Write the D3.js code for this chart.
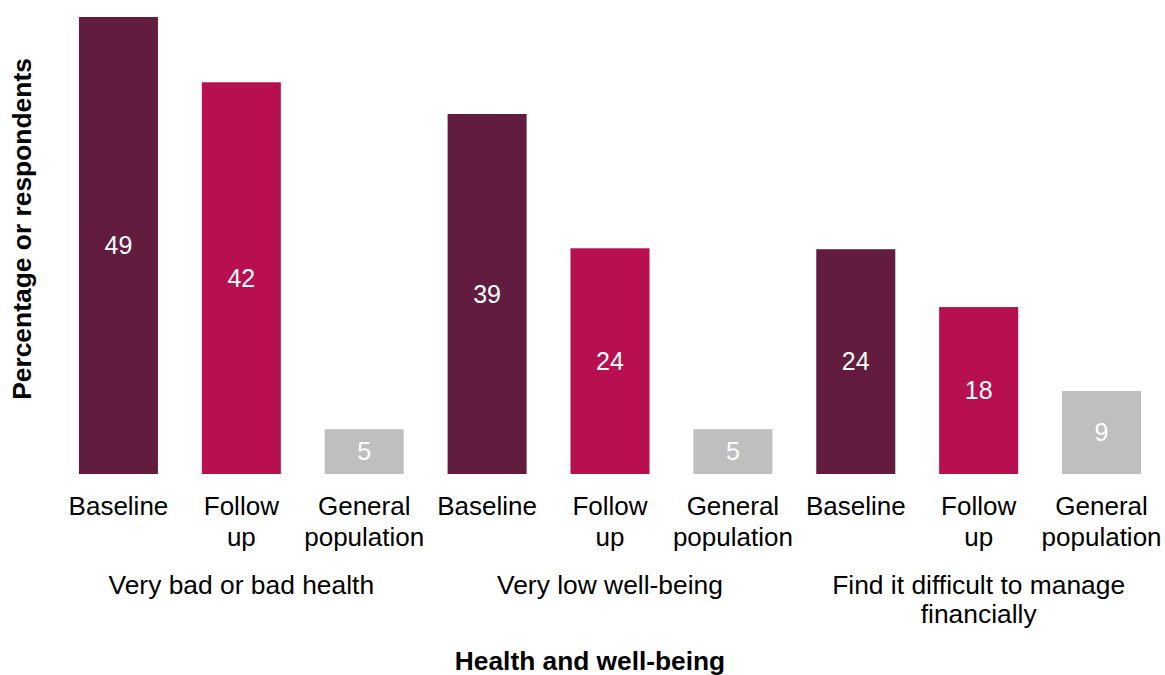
<!DOCTYPE html>
<html>
<head>
<meta charset="utf-8">
<script src="https://cdn.jsdelivr.net/npm/d3@7"></script>
<style>
  html, body { margin: 0; padding: 0; background: #fff; }
  svg { display: block; font-family: "Liberation Sans", Arial, sans-serif; }
</style>
</head>
<body>
<svg id="chart" width="1165" height="675"></svg>
<script>
// ---- data ----
const groups = ["Very bad or bad health", "Very low well-being", "Find it difficult to manage financially"];
const seriesNames = ["Baseline", "Follow up", "General population"];
const tickLabels = [["Baseline"], ["Follow", "up"], ["General", "population"]];
const baselineValues = [49.0, 38.6, 24.1];
const followUpValues = [42.0, 24.2, 17.9];
const generalPopValues = [4.8, 4.8, 8.9];
const seriesColors = ["#621c40", "#b70f50", "#bfbfbf"];
const yTitle = "Percentage or respondents";
const xTitle = "Health and well-being";

// ---- build rows ----
const seriesValues = [baselineValues, followUpValues, generalPopValues];
const rows = [];
groups.forEach((g, gi) => {
  seriesNames.forEach((s, si) => {
    rows.push({ id: gi * 3 + si, group: gi, series: si, value: seriesValues[si][gi] });
  });
});

const svg = d3.select("#chart");
const plotLeft = 57, plotRight = 1163, plotTop = 17, plotBottom = 474;

const x = d3.scaleBand()
  .domain(rows.map(d => d.id))
  .range([plotLeft, plotRight])
  .paddingInner(0.357)
  .paddingOuter(0.357 / 2);

const y = d3.scaleLinear()
  .domain([0, 49])
  .range([plotBottom, plotTop]);

// bars
svg.append("g").selectAll("rect")
  .data(rows)
  .join("rect")
  .attr("x", d => x(d.id))
  .attr("y", d => y(d.value))
  .attr("width", x.bandwidth())
  .attr("height", d => y(0) - y(d.value))
  .attr("fill", d => seriesColors[d.series]);

// value labels
svg.append("g").selectAll("text")
  .data(rows)
  .join("text")
  .attr("x", d => x(d.id) + x.bandwidth() / 2)
  .attr("y", d => (y(d.value) + y(0)) / 2)
  .attr("dy", "0.35em")
  .attr("text-anchor", "middle")
  .attr("fill", "#fff")
  .attr("font-size", 25)
  .text(d => d3.format(".0f")(d.value));

// x axis (category labels)
const xAxis = d3.axisBottom(x).tickSize(0).tickFormat("");
const axisG = svg.append("g")
  .attr("transform", `translate(0,${plotBottom})`)
  .call(xAxis);
axisG.select(".domain").remove();
axisG.selectAll(".tick").each(function(id) {
  const r = rows.find(d => d.id === id);
  const lines = tickLabels[r.series];
  const t = d3.select(this).select("text")
    .attr("y", 0).attr("dy", null)
    .attr("fill", "#000")
    .attr("font-size", 26)
    .attr("font-family", "Liberation Sans, Arial, sans-serif");
  t.selectAll("tspan").data(lines).join("tspan")
    .attr("x", 0)
    .attr("y", (d, i) => 41 + i * 31)
    .text(d => d);
});

// group labels (wrapped)
function wrapText(textSel, width, lineHeight) {
  textSel.each(function() {
    const text = d3.select(this);
    const words = text.text().split(/\s+/);
    const x0 = text.attr("x"), y0 = +text.attr("y");
    text.text(null);
    let line = [];
    let lineNo = 0;
    let tspan = text.append("tspan").attr("x", x0).attr("y", y0);
    words.forEach(w => {
      line.push(w);
      tspan.text(line.join(" "));
      if (tspan.node().getComputedTextLength() > width && line.length > 1) {
        line.pop();
        tspan.text(line.join(" "));
        line = [w];
        lineNo++;
        tspan = text.append("tspan").attr("x", x0).attr("y", y0 + lineNo * lineHeight).text(w);
      }
    });
  });
}
const groupText = svg.append("g").selectAll("text")
  .data(groups)
  .join("text")
  .attr("x", (g, gi) => x(gi * 3 + 1) + x.bandwidth() / 2)
  .attr("y", 594)
  .attr("text-anchor", "middle")
  .attr("font-size", 26.4)
  .attr("fill", "#000")
  .text(d => d);
wrapText(groupText, x.step() * 3 - 20, 29);

// axis titles
svg.append("text")
  .attr("x", (plotLeft + plotRight) / 2 - 20)
  .attr("y", 670)
  .attr("text-anchor", "middle")
  .attr("font-weight", "bold")
  .attr("font-size", 26.3)
  .attr("fill", "#000")
  .text(xTitle);

svg.append("text")
  .attr("transform", "translate(31,229) rotate(-90)")
  .attr("text-anchor", "middle")
  .attr("font-weight", "bold")
  .attr("font-size", 26.4)
  .attr("fill", "#000")
  .text(yTitle);
</script>
</body>
</html>
